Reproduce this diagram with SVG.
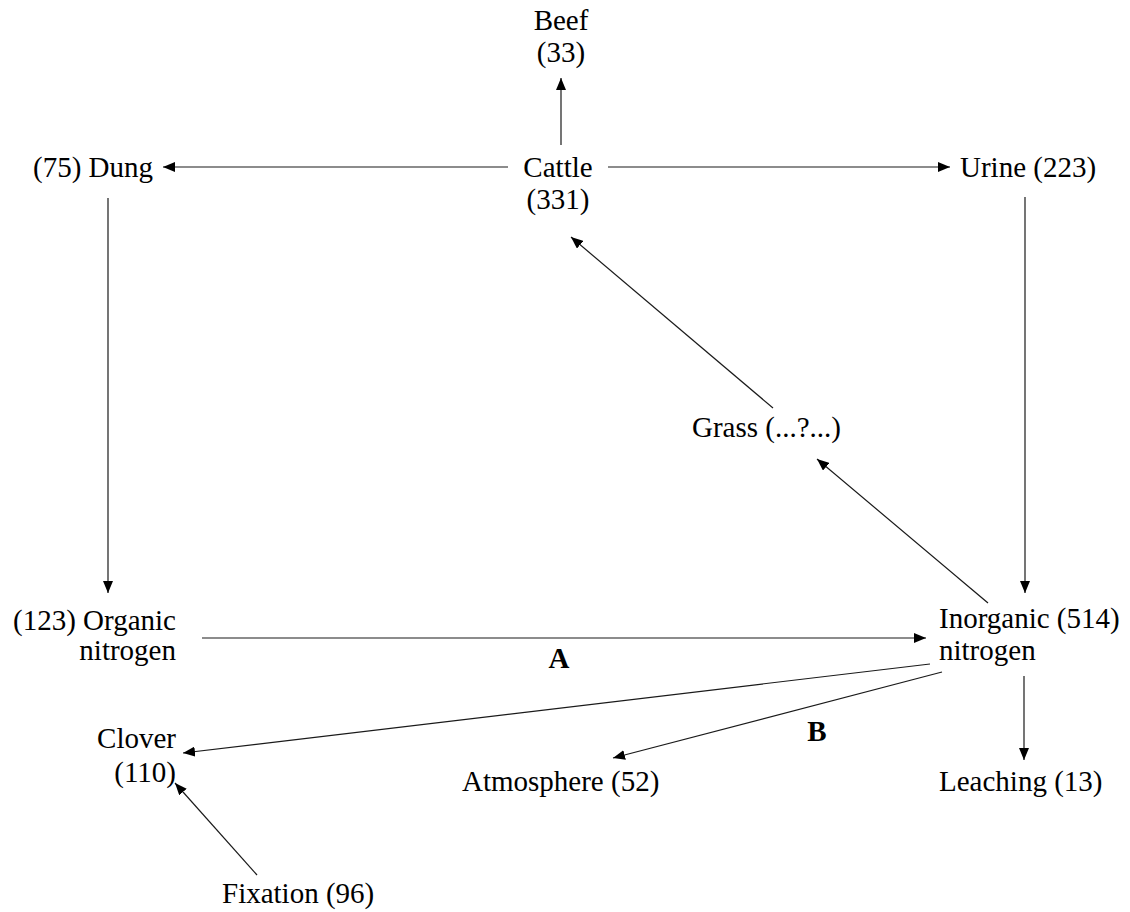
<svg xmlns="http://www.w3.org/2000/svg" width="1130" height="912" viewBox="0 0 1130 912">
  <style>
    .lbl { font-family: 'Liberation Serif', 'DejaVu Serif', serif; font-size: 29px; fill: #000; }
    .bold { font-weight: bold; }
    .edge { stroke: #1a1a1a; stroke-width: 1.2; fill: none; marker-end: url(#arrow); }
  </style>
  <defs>
    <marker id="arrow" markerUnits="userSpaceOnUse" markerWidth="13" markerHeight="10" refX="12" refY="5" orient="auto">
      <path d="M0,0 L12,5 L0,10 z" fill="#000"/>
    </marker>
  </defs>
  <rect width="1130" height="912" fill="#fff"/>

  <!-- connectors -->
  <g id="connectors">
    <line class="edge" x1="561" y1="145" x2="561" y2="78"/>
    <line class="edge" x1="508" y1="167" x2="163" y2="167"/>
    <line class="edge" x1="608" y1="167" x2="950" y2="167"/>
    <line class="edge" x1="108" y1="198" x2="108" y2="593"/>
    <line class="edge" x1="1025" y1="197" x2="1025" y2="593"/>
    <line class="edge" x1="773" y1="408" x2="571" y2="237"/>
    <line class="edge" x1="988" y1="603" x2="817" y2="459"/>
    <line class="edge" x1="202" y1="638" x2="926" y2="638"/>
    <line class="edge" x1="930" y1="664" x2="183" y2="753"/>
    <line class="edge" x1="942" y1="672" x2="613" y2="758"/>
    <line class="edge" x1="1024" y1="676" x2="1024" y2="760"/>
    <line class="edge" x1="257" y1="875" x2="175" y2="783"/>
    <text class="lbl bold" font-family="Liberation Serif, serif" x="559" y="668" text-anchor="middle">A</text>
    <text class="lbl bold" font-family="Liberation Serif, serif" x="817" y="741" text-anchor="middle">B</text>
  </g>

  <!-- nodes -->
  <g font-family="Liberation Serif, serif">
  <g id="beef">
    <text class="lbl" x="561" y="30" text-anchor="middle">Beef</text>
    <text class="lbl" x="561" y="62" text-anchor="middle">(33)</text>
  </g>
  <g id="cattle">
    <text class="lbl" x="558" y="177" text-anchor="middle">Cattle</text>
    <text class="lbl" x="558" y="209" text-anchor="middle">(331)</text>
  </g>
  <g id="dung">
    <text class="lbl" x="33" y="177">(75) Dung</text>
  </g>
  <g id="urine">
    <text class="lbl" x="960" y="177">Urine (223)</text>
  </g>
  <g id="grass">
    <text class="lbl" x="692" y="437">Grass (...?...)</text>
  </g>
  <g id="organic-nitrogen">
    <text class="lbl" x="176" y="630" text-anchor="end">(123) Organic</text>
    <text class="lbl" x="176" y="660" text-anchor="end">nitrogen</text>
  </g>
  <g id="inorganic-nitrogen">
    <text class="lbl" x="939" y="628">Inorganic (514)</text>
    <text class="lbl" x="939" y="660">nitrogen</text>
  </g>
  <g id="clover">
    <text class="lbl" x="176" y="748" text-anchor="end">Clover</text>
    <text class="lbl" x="176" y="782" text-anchor="end">(110)</text>
  </g>
  <g id="atmosphere">
    <text class="lbl" x="462" y="791">Atmosphere (52)</text>
  </g>
  <g id="leaching">
    <text class="lbl" x="939" y="791">Leaching (13)</text>
  </g>
  <g id="fixation">
    <text class="lbl" x="222" y="903">Fixation (96)</text>
  </g>
  </g>
</svg>
